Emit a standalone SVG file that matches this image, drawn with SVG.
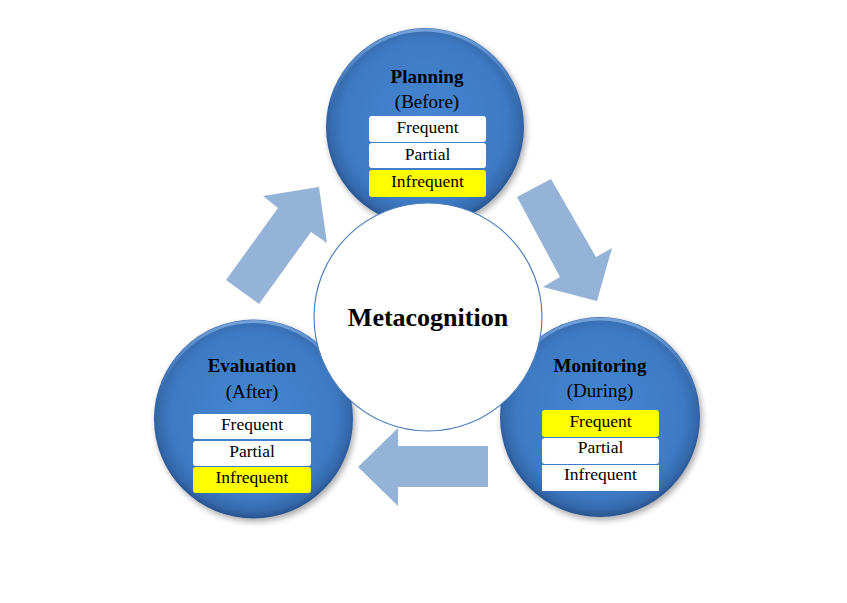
<svg xmlns="http://www.w3.org/2000/svg" width="847" height="603" viewBox="0 0 847 603">
<defs>
<radialGradient id="blue" cx="50%" cy="48%" r="52%">
<stop offset="0" stop-color="#4686D2"/>
<stop offset="0.8" stop-color="#3E7AC3"/>
<stop offset="0.93" stop-color="#3569AD"/>
<stop offset="1" stop-color="#28528C"/>
</radialGradient>
<linearGradient id="rim" x1="0" y1="0" x2="0" y2="1">
<stop offset="0" stop-color="#8FB8EC" stop-opacity="0.7"/>
<stop offset="0.4" stop-color="#6E9FDD" stop-opacity="0"/>
</linearGradient>
<filter id="shadow" x="-20%" y="-20%" width="140%" height="140%">
<feGaussianBlur in="SourceAlpha" stdDeviation="3"/>
<feOffset dx="2" dy="3" result="b"/>
<feComponentTransfer><feFuncA type="linear" slope="0.35"/></feComponentTransfer>
<feMerge><feMergeNode/><feMergeNode in="SourceGraphic"/></feMerge>
</filter>
</defs>
<style>
.disc{fill:url(#blue);filter:url(#shadow)}
.rim{fill:none;stroke:url(#rim);stroke-width:3}
.box{fill:#FFFFFF}
.hl{fill:#FFFF00}
.title{font-family:"Liberation Serif","Times New Roman",serif;font-weight:bold;font-size:19px;fill:#000;text-anchor:middle}
.sub{font-family:"Liberation Serif","Times New Roman",serif;font-size:19px;fill:#000;text-anchor:middle}
.item{font-family:"Liberation Serif","Times New Roman",serif;font-size:17.5px;fill:#000;text-anchor:middle}
.arrow{fill:#95B3D7}
.center{fill:#FFFFFF;stroke:#4F81BD;stroke-width:1.2}
.big{font-family:"Liberation Serif","Times New Roman",serif;font-weight:bold;font-size:26px;fill:#000;text-anchor:middle}
</style>
<rect width="847" height="603" fill="#FFFFFF"/>
<g id="connectors">
<polygon class="arrow" points="226,280 259,304 311,232 327,243 319,187 263,196 278,208"/>
<polygon class="arrow" points="517,197 551,179 596,257 612,248 597,301 543,287 560,277"/>
<polygon class="arrow" points="488,446 398,446 398,428 358,467 398,506 398,487 488,487"/>
</g>
<g id="planning">
<circle class="disc" cx="425" cy="127" r="99"/>
<circle class="rim" cx="425" cy="127" r="97"/>
<text class="title" x="427" y="83">Planning</text>
<text class="sub" x="427" y="108">(Before)</text>
<rect class="box" x="369" y="116" width="117" height="26" rx="3"/>
<rect class="box" x="369" y="143" width="117" height="25" rx="3"/>
<rect class="hl" x="369" y="170" width="117" height="27" rx="3"/>
<text class="item" x="427.5" y="133">Frequent</text>
<text class="item" x="427.5" y="160">Partial</text>
<text class="item" x="427.5" y="187">Infrequent</text>
</g>
<g id="evaluation">
<circle class="disc" cx="253.5" cy="419" r="99.5"/>
<circle class="rim" cx="253.5" cy="419" r="97.5"/>
<text class="title" x="252" y="372">Evaluation</text>
<text class="sub" x="252" y="398">(After)</text>
<rect class="box" x="193" y="414" width="118" height="25" rx="3"/>
<rect class="box" x="193" y="441" width="118" height="25" rx="3"/>
<rect class="hl" x="193" y="467" width="118" height="26" rx="3"/>
<text class="item" x="252" y="430">Frequent</text>
<text class="item" x="252" y="457">Partial</text>
<text class="item" x="252" y="483">Infrequent</text>
</g>
<g id="monitoring">
<circle class="disc" cx="600" cy="417" r="100"/>
<circle class="rim" cx="600" cy="417" r="98"/>
<text class="title" x="600" y="372">Monitoring</text>
<text class="sub" x="600" y="397">(During)</text>
<rect class="hl" x="542" y="410" width="117" height="27" rx="3"/>
<rect class="box" x="542" y="438" width="117" height="26" rx="3"/>
<rect class="box" x="542" y="465" width="117" height="26"/>
<text class="item" x="600.5" y="427">Frequent</text>
<text class="item" x="600.5" y="453">Partial</text>
<text class="item" x="600.5" y="480">Infrequent</text>
</g>
<g id="metacognition">
<circle class="center" cx="428" cy="317" r="114"/>
<text class="big" x="428" y="326">Metacognition</text>
</g>
</svg>
